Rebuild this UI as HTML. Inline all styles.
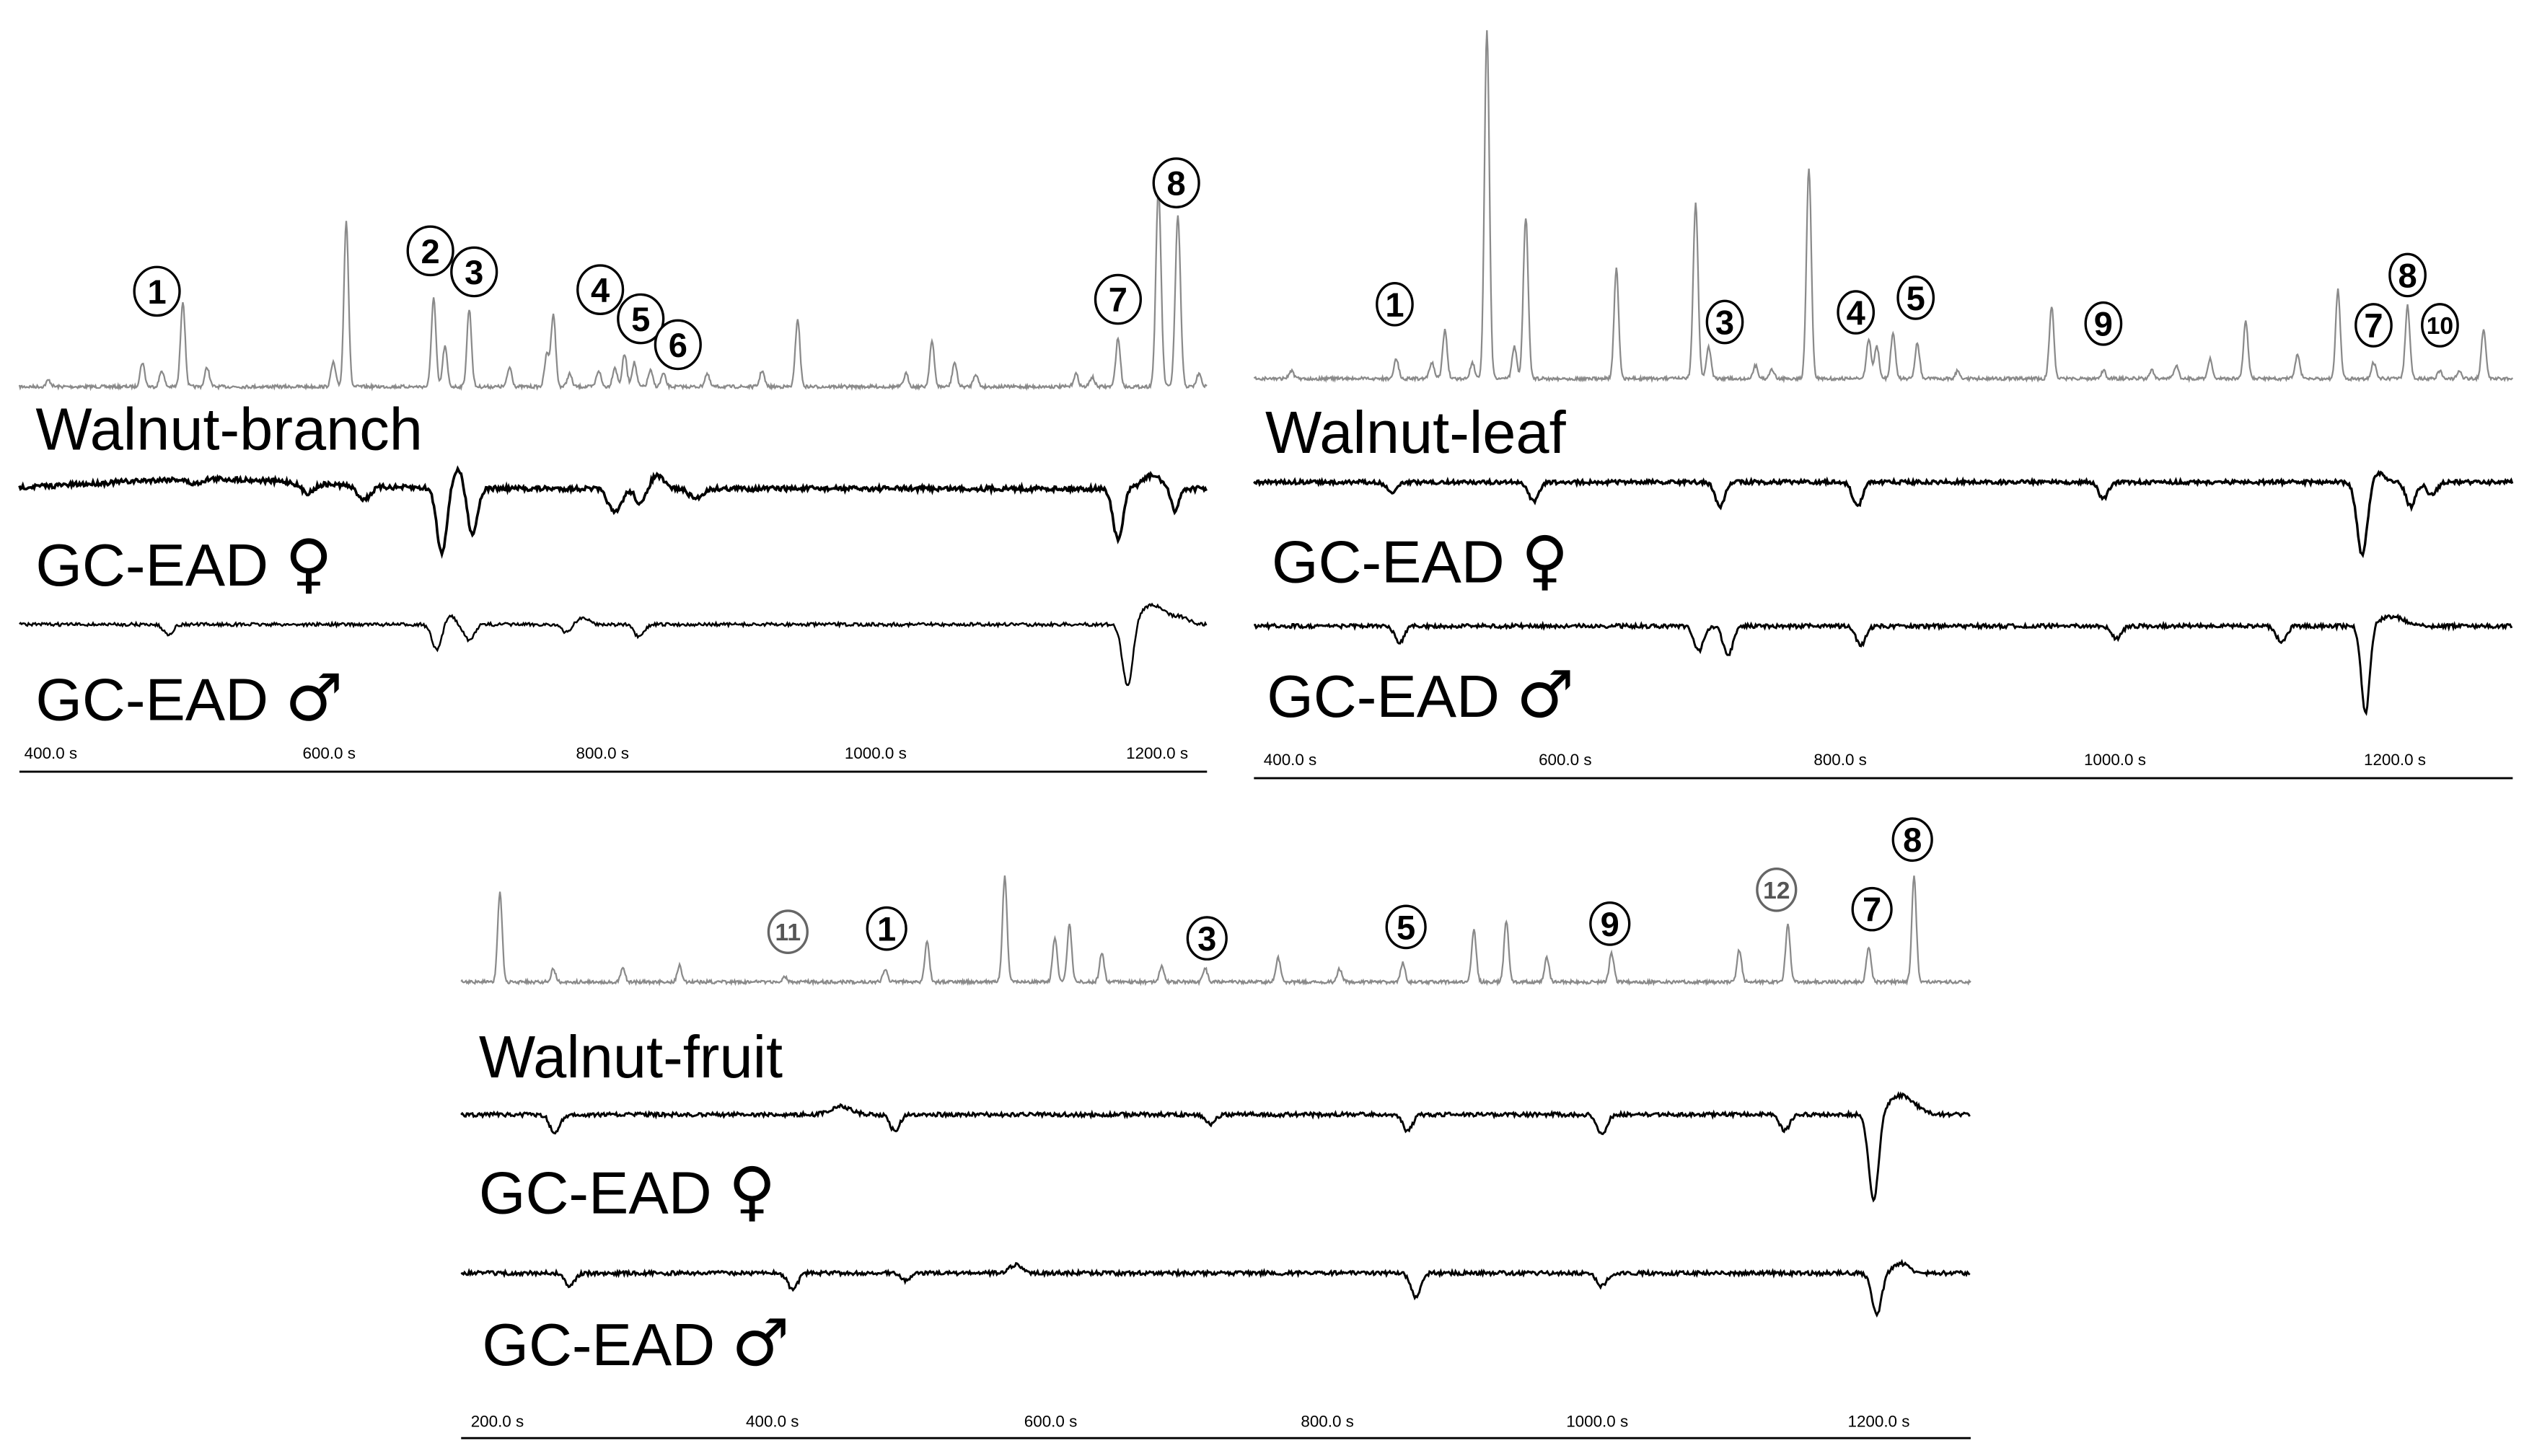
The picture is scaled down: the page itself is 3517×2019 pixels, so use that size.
<!DOCTYPE html>
<html><head><meta charset="utf-8"><style>
html,body{margin:0;padding:0;background:#fff;width:3517px;height:2019px;overflow:hidden}
svg{display:block}
text{font-family:"Liberation Sans",sans-serif;fill:#000}
.lab{font-size:37px}
.sym{font-family:"DejaVu Sans",sans-serif;font-size:40px}
.ax{font-size:10px}
.cn{font-size:21px;font-weight:bold;text-anchor:middle}
</style></head><body>
<svg id="s" width="3517" height="2019" viewBox="0 0 1568 900" xmlns="http://www.w3.org/2000/svg">
<g id="traces"></g>
<!-- branch -->
<text class="lab" x="22" y="278">Walnut-branch</text>
<text class="lab" x="22" y="362">GC-EAD <tspan class="sym">♀</tspan></text>
<text class="lab" x="22" y="445">GC-EAD <tspan class="sym">♂</tspan></text>
<g class="ax"><text x="15" y="469">400.0 s</text><text x="187" y="469">600.0 s</text><text x="356" y="469">800.0 s</text><text x="522" y="469">1000.0 s</text><text x="696" y="469">1200.0 s</text></g>
<line x1="12" y1="477" x2="746" y2="477" stroke="#000" stroke-width="1.3"/>
<!-- leaf -->
<text class="lab" x="782" y="280">Walnut-leaf</text>
<text class="lab" x="786" y="360">GC-EAD <tspan class="sym">♀</tspan></text>
<text class="lab" x="783" y="443">GC-EAD <tspan class="sym">♂</tspan></text>
<g class="ax"><text x="781" y="473">400.0 s</text><text x="951" y="473">600.0 s</text><text x="1121" y="473">800.0 s</text><text x="1288" y="473">1000.0 s</text><text x="1461" y="473">1200.0 s</text></g>
<line x1="775" y1="481" x2="1553" y2="481" stroke="#000" stroke-width="1.3"/>
<!-- fruit -->
<text class="lab" x="296" y="666">Walnut-fruit</text>
<text class="lab" x="296" y="750">GC-EAD <tspan class="sym">♀</tspan></text>
<text class="lab" x="298" y="844">GC-EAD <tspan class="sym">♂</tspan></text>
<g class="ax"><text x="291" y="882">200.0 s</text><text x="461" y="882">400.0 s</text><text x="633" y="882">600.0 s</text><text x="804" y="882">800.0 s</text><text x="968" y="882">1000.0 s</text><text x="1142" y="882">1200.0 s</text></g>
<line x1="285" y1="889" x2="1218" y2="889" stroke="#000" stroke-width="1.3"/>
<g id="circ"></g>
</svg>
<script>
var seed=7;function r(){seed=(seed*16807)%2147483647;return seed/2147483647;}
var T=document.getElementById('traces');
function add(d,c,w){var p=document.createElementNS('http://www.w3.org/2000/svg','path');p.setAttribute('d',d);p.setAttribute('fill','none');p.setAttribute('stroke',c);p.setAttribute('stroke-width',w);T.appendChild(p);}
function chrom(x0,x1,y0,peaks,noise){var d='';for(var x=x0;x<=x1;x+=0.5){var y=y0+(r()-0.5)*noise;for(var i=0;i<peaks.length;i++){var p=peaks[i],w=p[2]||1.4;var dx=(x-p[0])/w;y-=p[1]*Math.exp(-dx*dx/2);}d+=(x==x0?'M':'L')+x.toFixed(1)+' '+y.toFixed(1);}add(d,'#8a8a8a',1);}
function ead(x0,x1,y0,dips,noise,w){var d='';for(var x=x0;x<=x1;x+=0.7){var y=y0+(r()-0.5)*noise;for(var i=0;i<dips.length;i++){var p=dips[i],ww=p[2]||3;var dx=(x-p[0])/ww;y+=p[1]*Math.exp(-dx*dx/2);}d+=(x==x0?'M':'L')+x.toFixed(1)+' '+y.toFixed(1);}add(d,'#000',w);}
chrom(12,746,239,[[30,4],[88,15],[100,10],[113,53],[128,12],[206,15],[214,103],[268,55],[275,25],[290,48],[315,12],[338,20],[342,45],[352,8],[370,10],[380,12],[386,20],[392,15],[402,10],[410,8],[437,8],[471,10],[493,42],[560,8],[576,28],[590,15],[603,8],[665,8],[675,6],[691,30],[716,122,1.6],[728,105,1.6],[741,8]],2);
ead(12,746,302,[[40,0,5],[126,-6,60],[120,3,4],[190,6,4],[225,8,4],[273,40,3],[283,-12,3],[292,28,3],[380,15,4],[396,10,3],[406,-8,4],[430,6,4],[691,32,3],[712,-8,6],[726,14,2.5]],3,1.6);
ead(12,746,386,[[104,6,3],[270,16,3],[278,-6,3],[290,10,3],[350,5,3],[360,-4,4],[395,8,3],[697,40,3.2],[712,-12,8],[730,-4,5]],2,1.1);
chrom(775,1553,234,[[798,5],[863,12],[885,10],[893,30],[910,10],[919,215,1.5],[936,20],[943,100,1.5],[999,68],[1048,108,1.5],[1056,20],[1085,8],[1095,6],[1118,130,1.5],[1155,25],[1160,20],[1170,28],[1185,22],[1210,5],[1268,45],[1300,5],[1330,5],[1345,8],[1366,12],[1388,35],[1420,15],[1445,55],[1467,10],[1488,45],[1508,5],[1520,4],[1535,30]],2);
ead(775,1553,298,[[860,6],[948,12],[1063,15],[1148,15],[1300,10],[1460,45,3.2],[1470,-6,4],[1490,15],[1503,8]],2.5,1.5);
ead(775,1553,387,[[865,10],[1050,15],[1068,18],[1150,12],[1308,8],[1410,10],[1462,55,2.6],[1478,-6,8]],2.5,1.3);
chrom(285,1218,607,[[309,55],[342,8],[385,8],[420,10],[485,3],[547,8],[573,25],[621,65],[652,28],[661,35],[681,18],[718,10],[745,8],[790,15],[828,8],[867,12],[911,32],[931,38],[956,15],[996,18],[1075,20],[1105,35],[1155,22],[1183,65]],2);
ead(285,1218,689,[[343,12],[520,-5,6],[553,10],[748,6],[870,10],[990,12],[1103,10],[1158,55,3],[1175,-12,8]],2.5,1.3);
ead(285,1218,787,[[352,8],[490,10],[560,5],[628,-5,4],[875,15],[990,8],[1160,25,3],[1175,-6,5]],2.5,1.3);
var C=document.getElementById('circ');
function circ(x,y,t,rx,ry,grey){var g=document.createElementNS('http://www.w3.org/2000/svg','g');var fs=t>9?15:21;
g.innerHTML='<ellipse cx="'+x+'" cy="'+y+'" rx="'+rx+'" ry="'+ry+'" fill="#fff" stroke="'+(grey?'#666':'#000')+'" stroke-width="1.5"/><text class="cn" x="'+x+'" y="'+(y+fs*0.36)+'" style="font-size:'+fs+'px;fill:'+(grey?'#555':'#000')+'">'+t+'</text>';C.appendChild(g);}
[[97,180,1],[266,155,2],[293,168,3],[371,179,4],[396,197,5],[419,213,6],[691,185,7],[727,113,8]].forEach(function(a){circ(a[0],a[1],a[2],14,15);});
[[862,188,1],[1066,199,3],[1147,193,4],[1184,184,5],[1300,200,9],[1488,170,8],[1467,201,7],[1508,201,10]].forEach(function(a){circ(a[0],a[1],a[2],11,13);});
[[487,576,11,1],[548,574,1],[746,580,3],[869,573,5],[995,571,9],[1098,550,12,1],[1157,562,7],[1182,519,8]].forEach(function(a){circ(a[0],a[1],a[2],12,13,a[3]);});
</script>
</body></html>
